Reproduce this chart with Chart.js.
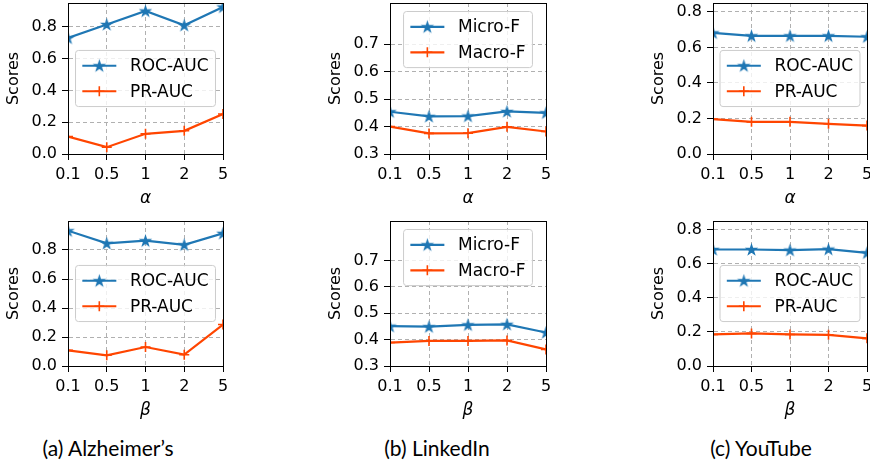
<!DOCTYPE html>
<html>
<head>
<meta charset="utf-8">
<script src="https://cdn.jsdelivr.net/npm/chart.js@4/dist/chart.umd.min.js"></script>
<style>
  html, body { margin: 0; padding: 0; background: #fff; }
  body { width: 870px; height: 464px; position: relative; overflow: hidden; }
  canvas { position: absolute; }
  .caption {
    position: absolute; width: 300px; text-align: center;
    font-family: "Liberation Sans Narrow", Lato, sans-serif;
    font-size: 21px; line-height: 26px; color: #000;
  }
</style>
</head>
<body>
<canvas id="alzAlpha"></canvas>
<canvas id="linAlpha"></canvas>
<canvas id="ytAlpha"></canvas>
<canvas id="alzBeta"></canvas>
<canvas id="linBeta"></canvas>
<canvas id="ytBeta"></canvas>
<div class="caption" style="left:-42px; top:435px;">(a) Alzheimer’s</div>
<div class="caption" style="left:287px; top:435px;">(b) LinkedIn</div>
<div class="caption" style="left:611px; top:435px;">(c) YouTube</div>
<script>
// valores
const xLabels = ['0.1', '0.5', '1', '2', '5'];

const alzAlphaRoc = [0.730, 0.815, 0.900, 0.810, 0.925];
const alzAlphaPr  = [0.110, 0.043, 0.127, 0.146, 0.252];
const alzBetaRoc  = [0.933, 0.846, 0.864, 0.836, 0.915];
const alzBetaPr   = [0.108, 0.074, 0.131, 0.078, 0.286];

const linAlphaMicro = [0.454, 0.437, 0.438, 0.455, 0.450];
const linAlphaMacro = [0.400, 0.375, 0.376, 0.399, 0.382];
const linBetaMicro  = [0.451, 0.449, 0.456, 0.458, 0.427];
const linBetaMacro  = [0.389, 0.395, 0.395, 0.397, 0.363];

const ytAlphaRoc = [0.682, 0.665, 0.665, 0.665, 0.660];
const ytAlphaPr  = [0.196, 0.181, 0.181, 0.170, 0.160];
const ytBetaRoc  = [0.683, 0.683, 0.679, 0.685, 0.663];
const ytBetaPr   = [0.185, 0.191, 0.185, 0.183, 0.162];

const aucTicks = [0.0, 0.2, 0.4, 0.6, 0.8];
const f1Ticks  = [0.3, 0.4, 0.5, 0.6, 0.7];

const BLUE = '#1f77b4';
const ORANGE = '#ff4500';
const FONT = '"DejaVu Sans", sans-serif';

// estrella rellena tipo matplotlib '*'
function makeStar(color, r) {
    const c = document.createElement('canvas');
    const size = Math.ceil(2 * r + 4);
    c.width = size; c.height = size;
    const ctx = c.getContext('2d');
    ctx.translate(size / 2, size / 2 + 0.5);
    ctx.beginPath();
    for (let k = 0; k < 10; k++) {
        const ang = -Math.PI / 2 + k * Math.PI / 5;
        const rad = k % 2 === 0 ? r : r * 0.382;
        ctx.lineTo(rad * Math.cos(ang), rad * Math.sin(ang));
    }
    ctx.closePath();
    ctx.fillStyle = color;
    ctx.fill();
    ctx.strokeStyle = color;
    ctx.lineWidth = 1.2;
    ctx.stroke();
    return c;
}
const starImg = makeStar(BLUE, 5.2);

// leyenda dentro del area del grafico
const insideLegend = {
    id: 'insideLegend',
    afterDatasetsDraw(chart, args, opts) {
        const ctx = chart.ctx;
        const area = chart.chartArea;
        const sets = chart.data.datasets;
        const fs = 17;
        ctx.save();
        ctx.font = fs + 'px ' + FONT;
        const textW = Math.max(...sets.map(d => ctx.measureText(d.label).width));
        const pad = 0.4 * fs, handle = 2 * fs, gap = 0.8 * fs, spacing = 0.5 * fs, rowH = fs;
        const w = 2 * pad + handle + gap + textW;
        const h = 2 * pad + sets.length * rowH + (sets.length - 1) * spacing;
        const x = (area.left + area.right) / 2 - w / 2;
        const y = opts.loc === 'upper' ? area.top + 0.5 * fs : (area.top + area.bottom) / 2 - h / 2;

        ctx.beginPath();
        ctx.roundRect(x, y, w, h, 3);
        ctx.fillStyle = 'rgba(255,255,255,0.8)';
        ctx.fill();
        ctx.strokeStyle = '#cccccc';
        ctx.lineWidth = 1;
        ctx.stroke();

        sets.forEach((d, i) => {
            const cy = y + pad + rowH / 2 + i * (rowH + spacing);
            const x0 = x + pad, x1 = x0 + handle, mx = (x0 + x1) / 2;
            ctx.beginPath();
            ctx.moveTo(x0, cy);
            ctx.lineTo(x1, cy);
            ctx.strokeStyle = d.borderColor;
            ctx.lineWidth = d.borderWidth;
            ctx.stroke();
            if (d.pointStyle === 'cross') {
                const r = d.pointRadius;
                ctx.beginPath();
                ctx.moveTo(mx - r, cy); ctx.lineTo(mx + r, cy);
                ctx.moveTo(mx, cy - r); ctx.lineTo(mx, cy + r);
                ctx.lineWidth = d.pointBorderWidth;
                ctx.stroke();
            } else {
                ctx.drawImage(d.pointStyle, mx - d.pointStyle.width / 2, cy - d.pointStyle.height / 2);
            }
            ctx.fillStyle = '#000';
            ctx.textBaseline = 'middle';
            ctx.textAlign = 'left';
            ctx.fillText(d.label, x1 + gap, cy + 1);
        });
        ctx.restore();
    }
};

// marco negro completo alrededor del area
const axesFrame = {
    id: 'axesFrame',
    afterDraw(chart) {
        const ctx = chart.ctx;
        const a = chart.chartArea;
        ctx.save();
        ctx.strokeStyle = '#000';
        ctx.lineWidth = 1;
        ctx.strokeRect(Math.round(a.left) + 0.5, Math.round(a.top) + 0.5,
            Math.round(a.right) - Math.round(a.left), Math.round(a.bottom) - Math.round(a.top));
        ctx.restore();
    }
};

function makePanel(id, box, cfg) {
    const canvas = document.getElementById(id);
    canvas.width = box.w;
    canvas.height = box.h;
    canvas.style.left = box.left + 'px';
    canvas.style.top = box.top + 'px';
    canvas.style.width = box.w + 'px';
    canvas.style.height = box.h + 'px';

    const gridOpts = {
        color: '#b0b0b0',
        lineWidth: 1,
        tickLength: 6,
        tickColor: '#000',
        tickWidth: 1,
        tickBorderDash: []
    };
    const borderOpts = { color: '#000', width: 1, dash: [4, 3] };

    return new Chart(canvas.getContext('2d'), {
        type: 'line',
        data: {
            labels: xLabels,
            datasets: [{
                label: cfg.labels[0],
                data: cfg.series[0],
                borderColor: BLUE,
                backgroundColor: BLUE,
                borderWidth: 2.2,
                pointStyle: starImg,
                pointRadius: 6,
                clip: 0
            }, {
                label: cfg.labels[1],
                data: cfg.series[1],
                borderColor: ORANGE,
                backgroundColor: ORANGE,
                borderWidth: 2.2,
                pointStyle: 'cross',
                pointRadius: 5,
                pointBorderWidth: 1.6,
                clip: 0
            }]
        },
        options: {
            responsive: false,
            animation: false,
            devicePixelRatio: 1,
            layout: { padding: { top: box.padTop, right: 12, left: 0, bottom: 0 } },
            plugins: {
                legend: { display: false },
                tooltip: { enabled: false },
                insideLegend: { loc: cfg.legendLoc }
            },
            scales: {
                x: {
                    type: 'category',
                    offset: false,
                    grid: gridOpts,
                    border: borderOpts,
                    ticks: { color: '#000', font: { family: FONT, size: 16 }, padding: 5, maxRotation: 0, autoSkip: false },
                    title: { display: true, text: cfg.xTitle, color: '#000', font: { family: FONT, size: 17, style: 'italic' }, padding: { top: 0, bottom: 1 } },
                    afterFit: (s) => {
                        s.height = 56;
                        s.paddingLeft = 0; s.paddingRight = 0; s.paddingTop = 0; s.paddingBottom = 0;
                    }
                },
                y: {
                    min: cfg.yMin,
                    max: cfg.yMax,
                    grid: gridOpts,
                    border: borderOpts,
                    ticks: {
                        color: '#000', font: { family: FONT, size: 16 }, padding: 5,
                        callback: (v) => Number(v).toFixed(1)
                    },
                    afterBuildTicks: (s) => { s.ticks = cfg.yTicks.map(v => ({ value: v })); },
                    title: { display: true, text: 'Scores', color: '#000', font: { family: FONT, size: 16 }, padding: { top: 4, bottom: 0 } },
                    afterFit: (s) => {
                        s.width = 68;
                        s.paddingLeft = 0; s.paddingRight = 0; s.paddingTop = 0; s.paddingBottom = 0;
                    }
                }
            }
        },
        plugins: [insideLegend, axesFrame]
    });
}

document.addEventListener('DOMContentLoaded', () => {
    // la fila superior sube el canvas para que el margen minimo de Chart.js quede fuera
    const top = { top: -8, h: 218, padTop: 11 };
    const bot = { top: 210, h: 212, padTop: 11 };
    const cols = [{ left: 0, w: 235 }, { left: 322, w: 236 }, { left: 645, w: 234 }];
    const aucLabels = ['ROC-AUC', 'PR-AUC'];
    const f1Labels = ['Micro-F', 'Macro-F'];

    makePanel('alzAlpha', { ...cols[0], ...top }, { labels: aucLabels, series: [alzAlphaRoc, alzAlphaPr], yMin: 0, yMax: 0.95, yTicks: aucTicks, xTitle: 'α', legendLoc: 'center' });
    makePanel('linAlpha', { ...cols[1], ...top }, { labels: f1Labels, series: [linAlphaMicro, linAlphaMacro], yMin: 0.3, yMax: 0.85, yTicks: f1Ticks, xTitle: 'α', legendLoc: 'upper' });
    makePanel('ytAlpha', { ...cols[2], ...top }, { labels: aucLabels, series: [ytAlphaRoc, ytAlphaPr], yMin: 0, yMax: 0.85, yTicks: aucTicks, xTitle: 'α', legendLoc: 'center' });
    makePanel('alzBeta', { ...cols[0], ...bot }, { labels: aucLabels, series: [alzBetaRoc, alzBetaPr], yMin: 0, yMax: 1.0, yTicks: aucTicks, xTitle: 'β', legendLoc: 'center' });
    makePanel('linBeta', { ...cols[1], ...bot }, { labels: f1Labels, series: [linBetaMicro, linBetaMacro], yMin: 0.3, yMax: 0.85, yTicks: f1Ticks, xTitle: 'β', legendLoc: 'upper' });
    makePanel('ytBeta', { ...cols[2], ...bot }, { labels: aucLabels, series: [ytBetaRoc, ytBetaPr], yMin: 0, yMax: 0.85, yTicks: aucTicks, xTitle: 'β', legendLoc: 'center' });
});
</script>
</body>
</html>
